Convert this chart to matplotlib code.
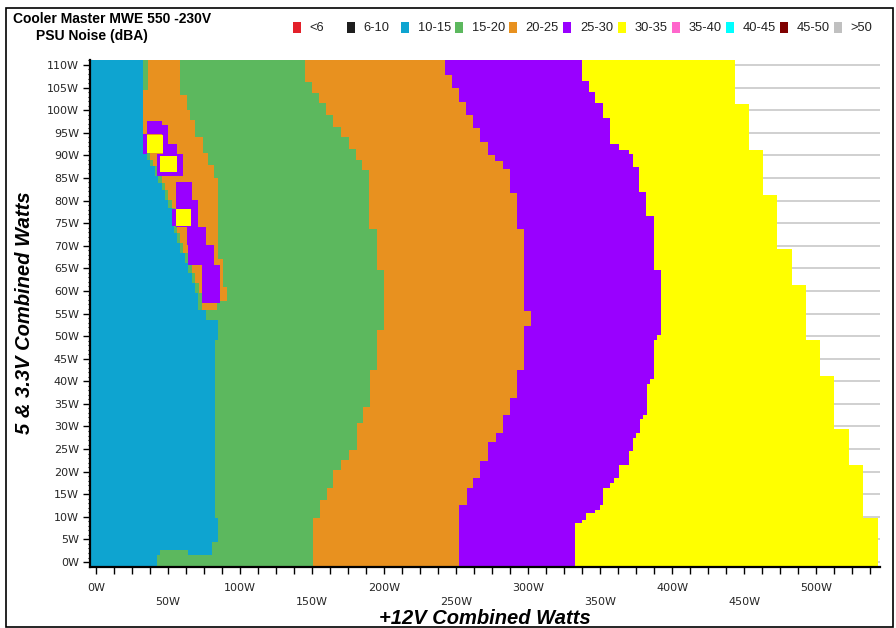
import numpy as np
import matplotlib
matplotlib.use("Agg")
import matplotlib.pyplot as plt
from matplotlib.colors import ListedColormap
from matplotlib.patches import Rectangle

FIG_W, FIG_H = 896, 628

# noise classes (dBA) and their colours
classes = ["<6", "6-10", "10-15", "15-20", "20-25", "25-30", "30-35",
           "35-40", "40-45", "45-50", ">50"]
colors = ["#e3202a", "#1e1e1e", "#0ea4d0", "#5cb85e", "#e8911f", "#9900ff",
          "#ffff00", "#ff66cc", "#00ffff", "#7f0000", "#c0c0c0"]

# Staircase edges: starting at each *_y value (5V+3.3V watts) and going up,
# the edge sits at the matching *_x value (+12V watts).
# 10-15 | 15-20
blue_y = [-1.1, 1.5, 2.7, 4.5, 9.7, 49.1, 53.5, 55.8, 59.5, 61.8, 64.0, 66.2,
          68.4, 70.6, 72.8, 74.3, 78.4, 80.2, 82.4, 83.9, 85.4, 87.6, 89.0,
          90.5, 94.9]
blue_x = [42.1, 44.4, 80.3, 84.9, 82.6, 84.9, 76.0, 71.0, 68.8, 66.5, 64.1,
          61.8, 58.3, 56.0, 53.7, 52.6, 50.2, 47.9, 45.6, 43.3, 41.0, 37.5,
          35.2, 32.4, 32.9]
# 15-20 | 20-25
green_y = [-1.1, 9.7, 13.7, 16.3, 20.4, 22.6, 24.8, 30.7, 34.4, 42.5, 51.3,
           64.6, 73.8, 86.7, 88.9, 91.5, 94.1, 96.3, 98.9, 101.5, 103.7, 106.3]
green_x = [150.5, 155.6, 160.2, 164.8, 169.9, 175.9, 181.0, 185.2, 190.3,
           195.4, 200.0, 194.9, 189.5, 184.5, 180.3, 175.2, 169.9, 164.8,
           159.7, 155.1, 149.8, 145.1]
# 20-25 | 25-30
orange_y = [-1.1, 12.6, 16.3, 18.5, 22.3, 26.5, 28.5, 32.5, 36.4, 42.5, 52.3,
            55.5, 73.7, 81.6, 86.9, 88.7, 90.0, 93.0, 96.1, 98.9, 101.8,
            104.8, 107.7]
orange_x = [252.3, 257.4, 261.6, 266.7, 272.0, 277.5, 282.4, 287.5, 292.6,
            297.2, 301.9, 297.2, 292.6, 287.5, 282.4, 277.1, 272.0, 266.7,
            261.6, 256.9, 252.3, 247.0, 242.4]
# 25-30 | 30-35
purple_y = [-1.1, 8.6, 9.4, 10.8, 11.5, 12.6, 16.3, 17.4, 18.5, 21.5, 24.6,
            27.4, 28.5, 31.6, 32.5, 39.5, 40.4, 49.1, 50.2, 64.6, 76.6, 81.9,
            87.5, 90.4, 91.2, 92.6, 98.2, 101.5, 104.1, 106.5]
purple_x = [332.6, 337.3, 340.3, 346.5, 349.5, 352.3, 356.9, 359.2, 362.7,
            369.7, 372.7, 375.0, 377.8, 380.0, 382.4, 384.7, 387.5, 389.8,
            392.1, 387.0, 382.0, 377.3, 372.7, 369.7, 362.7, 356.9, 351.9,
            346.5, 342.6, 337.3]
# last measured load
end_y = [-1.1, 9.7, 21.5, 29.4, 41.2, 49.1, 61.3, 69.2, 81.2, 91.2, 101.3]
end_x = [543.0, 532.6, 523.0, 512.5, 502.6, 492.8, 483.0, 473.0, 463.4,
         453.5, 443.7]

# 20-25 tongue inside the low-load area
tongue_l_y = [55.8, 59.5, 61.8, 64.0, 66.2, 68.4, 70.6, 72.8, 74.3, 78.4,
              80.2, 82.4, 83.9, 85.4, 87.6, 89.0, 90.5, 94.9, 104.4]
tongue_l_x = [73.4, 71.2, 68.8, 66.4, 64.1, 60.6, 58.3, 56.0, 54.9, 52.5,
              50.2, 47.9, 45.6, 43.3, 39.8, 37.5, 32.4, 32.9, 35.9]
tongue_r_y = [55.8, 57.8, 60.8, 67.0, 85.0, 87.9, 90.5, 94.1, 97.8, 100.0,
              103.3]
tongue_r_x = [84.0, 90.8, 88.4, 84.9, 81.5, 78.0, 74.5, 68.8, 65.3, 63.0,
              58.3]

# isolated spots: x0, x1, y0, y1, class index
spots = [
    (64.0, 80.3, 1.5, 2.7, 2),
    (35.2, 45.6, 94.8, 97.6, 5),
    (45.6, 50.2, 92.6, 96.7, 5),
    (32.9, 35.2, 90.4, 94.8, 5),
    (46.3, 56.0, 90.0, 92.6, 5),
    (42.1, 60.6, 85.4, 90.4, 5),
    (55.6, 66.5, 80.1, 84.1, 5),
    (55.6, 71.0, 74.2, 80.1, 5),
    (52.6, 55.6, 74.3, 78.2, 5),
    (63.0, 76.4, 70.1, 74.2, 5),
    (64.1, 81.5, 65.7, 70.1, 5),
    (73.4, 86.1, 57.4, 65.7, 5),
    (35.2, 46.3, 90.6, 94.6, 6),
    (44.4, 56.0, 86.3, 89.8, 6),
    (55.6, 66.0, 74.3, 78.2, 6),
]

XMIN, XMAX = -4.2, 544.4
YMIN, YMAX = -1.1, 111.1


def edge(yq, ys, xs):
    idx = np.searchsorted(np.asarray(ys), yq, side="right") - 1
    return np.asarray(xs)[np.clip(idx, 0, len(xs) - 1)]


dx, dy = 0.25, 0.1
xc = np.arange(XMIN + dx / 2, XMAX, dx)
yc = np.arange(YMIN + dy / 2, YMAX, dy)
X, Y = np.meshgrid(xc, yc)
yq = yc[:, None]

grid = np.full(X.shape, np.nan)
bounds = [edge(yq, blue_y, blue_x), edge(yq, green_y, green_x),
          edge(yq, orange_y, orange_x), edge(yq, purple_y, purple_x),
          edge(yq, end_y, end_x)]
for cls, b in zip([6, 5, 4, 3, 2], bounds[::-1]):
    grid[X < b] = cls

inside = (Y >= tongue_l_y[0]) & (X >= edge(yq, tongue_l_y, tongue_l_x)) & \
         (X < edge(yq, tongue_r_y, tongue_r_x))
grid[inside] = 4
for x0, x1, y0, y1, cls in spots:
    grid[(X >= x0) & (X < x1) & (Y >= y0) & (Y < y1)] = cls

cmap = ListedColormap(colors)
cmap.set_bad((1, 1, 1, 0))

fig = plt.figure(figsize=(FIG_W / 100, FIG_H / 100), dpi=100)
ax = fig.add_axes([90 / FIG_W, 1 - 567 / FIG_H, 790 / FIG_W, 507 / FIG_H])
ax.imshow(np.ma.masked_invalid(grid), cmap=cmap, vmin=-0.5, vmax=10.5,
          origin="lower", extent=(XMIN, XMAX, YMIN, YMAX), aspect="auto",
          interpolation="nearest", zorder=1)
ax.set_xlim(XMIN, XMAX)
ax.set_ylim(YMIN, YMAX)

ax.set_axisbelow(True)
ax.yaxis.grid(True, color="#c8c8c8", lw=1.2)
ax.spines["top"].set_visible(False)
ax.spines["right"].set_visible(False)
for s in ["left", "bottom"]:
    ax.spines[s].set_linewidth(1.6)

yt = np.arange(0, 111, 5)
ax.set_yticks(yt)
ax.set_yticklabels([f"{v}W" for v in yt])
ax.set_yticks(np.arange(0, 112, 1), minor=True)

xt = np.arange(0, 501, 50)
ax.set_xticks(xt)
ax.set_xticklabels([f"{v}W" if i % 2 == 0 else f"\n{v}W" for i, v in enumerate(xt)])
ax.set_xticks(np.arange(0, 540, 12.5), minor=True)

ax.tick_params(axis="y", which="major", direction="out", length=5, width=1,
               labelsize=8, labelcolor="#262626", pad=3)
ax.tick_params(axis="y", which="minor", direction="inout", length=3, width=0.8)
ax.tick_params(axis="x", which="both", direction="out", length=5, width=1,
               labelsize=8, labelcolor="#262626", pad=6.5)
for lab in ax.get_xticklabels() + ax.get_yticklabels():
    lab.set_fontfamily("DejaVu Sans")
for lab in ax.get_xticklabels()[1::2]:
    lab.set_linespacing(1.45)


def fx(px):
    return px / FIG_W


def fy(py):
    return 1 - py / FIG_H


fig.text(fx(12.5), fy(19), "Cooler Master MWE 550 -230V", family="Liberation Sans",
         weight="bold", fontsize=10, va="center", ha="left")
fig.text(fx(36), fy(36), "PSU Noise (dBA)", family="Liberation Sans",
         weight="bold", fontsize=10, va="center", ha="left")

# legend row
for i, (name, c) in enumerate(zip(classes, colors)):
    x0 = 292.7 + i * 54.15
    fig.patches.append(Rectangle((fx(x0), fy(33)), 8 / FIG_W, 11 / FIG_H,
                                 transform=fig.transFigure, color=c, lw=0))
    fig.text(fx(x0 + 16.5), fy(28), name, family="Liberation Sans",
             fontsize=9.3, va="center", ha="left", color="#222222")

fig.text(fx(485), fy(619), "+12V Combined Watts", family="Liberation Sans",
         weight="bold", style="italic", fontsize=14.5, ha="center", va="center")
fig.text(fx(25), fy(313), "5 & 3.3V Combined Watts", family="Liberation Sans",
         weight="bold", style="italic", fontsize=14.5, ha="center", va="center",
         rotation=90)

# outer frame
fig.patches.append(Rectangle((fx(6), fy(627)), 887 / FIG_W, 619 / FIG_H,
                             transform=fig.transFigure, fill=False,
                             edgecolor="black", lw=1.2))

fig.savefig("out.png", dpi=100)
